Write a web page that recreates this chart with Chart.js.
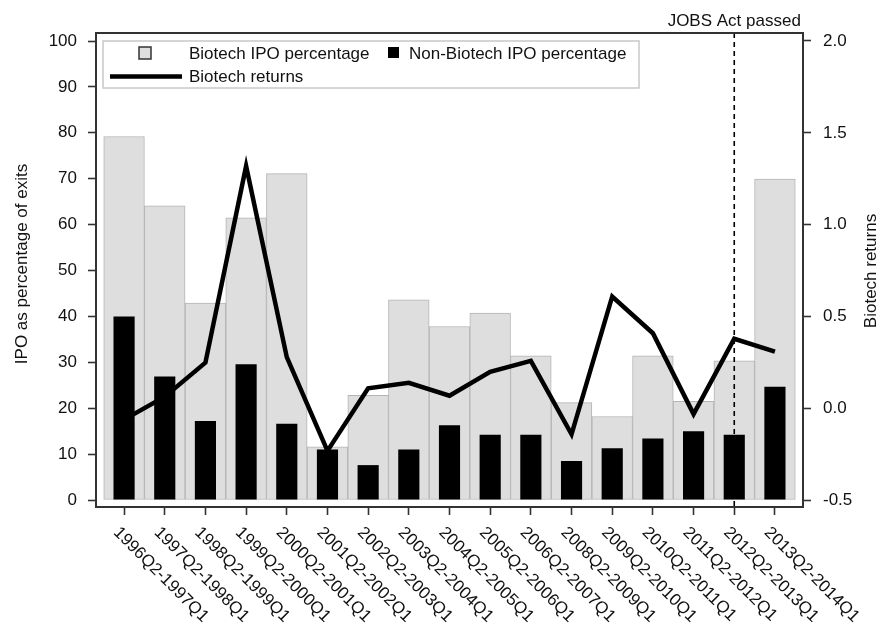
<!DOCTYPE html>
<html>
<head>
<meta charset="utf-8">
<title>Biotech IPOs and returns</title>
<script src="https://cdn.jsdelivr.net/npm/chart.js@4/dist/chart.umd.min.js"></script>
<style>
  html, body { margin: 0; padding: 0; background: #ffffff; }
  #wrap { width: 879px; height: 629px; }
</style>
</head>
<body>
<div id="wrap"><canvas id="chart" width="879" height="629"></canvas></div>
<script>
// Twelve-month windows (Q2 to Q1 of the following year)
const periods = [
  '1996Q2-1997Q1', '1997Q2-1998Q1', '1998Q2-1999Q1', '1999Q2-2000Q1',
  '2000Q2-2001Q1', '2001Q2-2002Q1', '2002Q2-2003Q1', '2003Q2-2004Q1',
  '2004Q2-2005Q1', '2005Q2-2006Q1', '2006Q2-2007Q1', '2008Q2-2009Q1',
  '2009Q2-2010Q1', '2010Q2-2011Q1', '2011Q2-2012Q1', '2012Q2-2013Q1',
  '2013Q2-2014Q1'
];

// IPOs as a percentage of all exits
const biotechIpoPct = [79.2, 64.1, 42.9, 61.5, 71.1, 11.6, 22.8, 43.6, 37.8, 40.7, 31.4, 21.2, 18.2, 31.4, 21.5, 30.3, 69.9];
const nonBiotechIpoPct = [40.0, 26.9, 17.2, 29.6, 16.6, 11.0, 7.6, 11.0, 16.3, 14.2, 14.2, 8.5, 11.3, 13.4, 15.0, 14.2, 24.7];

// Biotech index returns over the same windows
const biotechReturns = [-0.06, 0.065, 0.25, 1.32, 0.28, -0.23, 0.11, 0.14, 0.07, 0.20, 0.26, -0.14, 0.61, 0.41, -0.03, 0.38, 0.31];

// Axis tick values
const pctTicks = [0, 10, 20, 30, 40, 50, 60, 70, 80, 90, 100];
const returnTicks = [-0.5, 0.0, 0.5, 1.0, 1.5, 2.0];

// Period in which the JOBS Act was passed
const jobsActPeriod = '2012Q2-2013Q1';
const jobsActLabel = 'JOBS Act passed';

const FONT = '"Liberation Sans", Arial, Helvetica, sans-serif';
const INK = '#111111';
const FRAME = '#333333';

Chart.defaults.font.family = FONT;
Chart.defaults.font.size = 17;
Chart.defaults.color = INK;

const toPoints = arr => arr.map((v, i) => ({ x: i, y: v }));

const decorations = {
  id: 'decorations',
  beforeDraw(chart) {
    const ctx = chart.ctx;
    ctx.save();
    ctx.fillStyle = '#ffffff';
    ctx.fillRect(0, 0, chart.width, chart.height);
    ctx.restore();
  },
  afterDraw(chart) {
    const ctx = chart.ctx;
    const area = chart.chartArea;
    const xs = chart.scales.x;
    ctx.save();

    // JOBS Act marker
    const jx = xs.getPixelForValue(periods.indexOf(jobsActPeriod));
    ctx.strokeStyle = '#000000';
    ctx.lineWidth = 1.6;
    ctx.setLineDash([5, 4]);
    ctx.beginPath();
    ctx.moveTo(jx, area.top);
    ctx.lineTo(jx, area.bottom);
    ctx.stroke();
    ctx.setLineDash([]);

    ctx.fillStyle = INK;
    ctx.font = '17px ' + FONT;
    ctx.textAlign = 'center';
    ctx.textBaseline = 'alphabetic';
    ctx.fillText(jobsActLabel, jx, 26);

    // Plot frame
    ctx.strokeStyle = FRAME;
    ctx.lineWidth = 2;
    ctx.strokeRect(area.left, area.top, area.right - area.left, area.bottom - area.top);

    // Rotated period labels
    ctx.fillStyle = INK;
    ctx.textAlign = 'left';
    ctx.textBaseline = 'middle';
    periods.forEach((p, i) => {
      const px = xs.getPixelForValue(i);
      ctx.save();
      ctx.translate(px - 8, 530);
      ctx.rotate(Math.PI / 4);
      ctx.fillText(p, 0, 0);
      ctx.restore();
    });

    // Axis titles
    ctx.textAlign = 'center';
    ctx.textBaseline = 'middle';
    ctx.save();
    ctx.translate(22, 264);
    ctx.rotate(-Math.PI / 2);
    ctx.fillText('IPO as percentage of exits', 0, 0);
    ctx.restore();
    ctx.save();
    ctx.translate(871, 271);
    ctx.rotate(-Math.PI / 2);
    ctx.fillText('Biotech returns', 0, 0);
    ctx.restore();

    // Legend
    const ds = chart.data.datasets;
    ctx.fillStyle = '#ffffff';
    ctx.fillRect(103, 41, 536, 47);
    ctx.strokeStyle = '#c8c8c8';
    ctx.lineWidth = 1.5;
    ctx.strokeRect(103, 41, 536, 47);

    ctx.fillStyle = ds[0].backgroundColor;
    ctx.fillRect(139, 47, 12, 12);
    ctx.strokeStyle = FRAME;
    ctx.lineWidth = 1.5;
    ctx.strokeRect(139, 47, 12, 12);

    ctx.fillStyle = ds[1].backgroundColor;
    ctx.fillRect(388, 47, 11, 11);

    ctx.strokeStyle = ds[2].borderColor;
    ctx.lineWidth = 4.5;
    ctx.beginPath();
    ctx.moveTo(110, 76.5);
    ctx.lineTo(182, 76.5);
    ctx.stroke();

    ctx.fillStyle = INK;
    ctx.textAlign = 'left';
    ctx.textBaseline = 'alphabetic';
    ctx.fillText(ds[0].label, 189, 59);
    ctx.fillText(ds[1].label, 409, 59);
    ctx.fillText(ds[2].label, 189, 82);

    ctx.restore();
  }
};

const tickGrid = {
  display: true,
  drawOnChartArea: false,
  drawTicks: true,
  tickLength: 8,
  tickColor: FRAME,
  tickWidth: 1.6,
  offset: false
};

new Chart(document.getElementById('chart'), {
  type: 'bar',
  data: {
    datasets: [
      {
        label: 'Biotech IPO percentage',
        data: toPoints(biotechIpoPct),
        backgroundColor: '#dedede',
        borderColor: '#b4b4b4',
        borderWidth: 1,
        borderSkipped: false,
        barPercentage: 1.0,
        categoryPercentage: 1.0,
        grouped: false,
        yAxisID: 'y',
        order: 3
      },
      {
        label: 'Non-Biotech IPO percentage',
        data: toPoints(nonBiotechIpoPct),
        backgroundColor: '#000000',
        borderWidth: 0,
        barPercentage: 0.52,
        categoryPercentage: 1.0,
        grouped: false,
        yAxisID: 'y',
        order: 1
      },
      {
        type: 'line',
        label: 'Biotech returns',
        data: toPoints(biotechReturns),
        borderColor: '#000000',
        borderWidth: 4.5,
        borderJoinStyle: 'miter',
        borderCapStyle: 'butt',
        pointRadius: 0,
        tension: 0,
        fill: false,
        yAxisID: 'y2',
        order: 2
      }
    ]
  },
  options: {
    responsive: false,
    devicePixelRatio: 1,
    animation: false,
    layout: { padding: { top: 33, left: 0, right: 0, bottom: 0 } },
    plugins: {
      legend: { display: false },
      tooltip: { enabled: false },
      title: { display: false }
    },
    scales: {
      x: {
        type: 'linear',
        bounds: 'data',
        offset: false,
        min: -0.69,
        max: 16.69,
        grid: tickGrid,
        border: { display: false },
        ticks: { display: false },
        afterBuildTicks: s => { s.ticks = periods.map((p, i) => ({ value: i })); },
        afterFit: s => { s.height = 122; }
      },
      y: {
        type: 'linear',
        position: 'left',
        bounds: 'data',
        min: -1.525,
        max: 101.745,
        grid: tickGrid,
        border: { display: false },
        ticks: { padding: 11, color: INK, font: { size: 17 } },
        afterBuildTicks: s => { s.ticks = pctTicks.map(v => ({ value: v })); },
        afterFit: s => { s.width = 96; }
      },
      y2: {
        type: 'linear',
        position: 'right',
        bounds: 'data',
        min: -0.5354,
        max: 2.0435,
        grid: tickGrid,
        border: { display: false },
        ticks: { padding: 12, color: INK, font: { size: 17 }, callback: v => v.toFixed(1) },
        afterBuildTicks: s => { s.ticks = returnTicks.map(v => ({ value: v })); },
        afterFit: s => { s.width = 76; }
      }
    }
  },
  plugins: [decorations]
});
</script>
</body>
</html>
